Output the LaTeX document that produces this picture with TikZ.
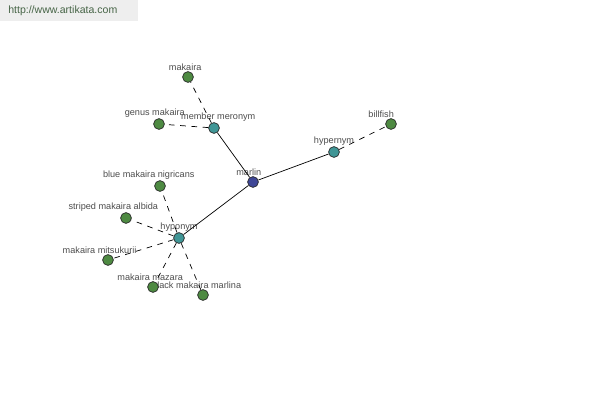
\documentclass[tikz,border=0pt]{standalone}
\usepackage{fontspec}
\setmainfont{Liberation Sans}
\definecolor{leafgreen}{RGB}{78,138,66}
\definecolor{reltea}{RGB}{64,150,150}
\definecolor{rootblue}{RGB}{62,70,150}
\definecolor{urlgray}{RGB}{238,238,238}
\definecolor{urltext}{RGB}{70,100,70}
\begin{document}
\begin{tikzpicture}[x=0.025cm, y=-0.025cm,
  word/.style={circle, draw=black!85, line width=0.5pt, inner sep=0pt, minimum size=0.27cm},
  leaf/.style={word, fill=leafgreen},
  rel/.style={word, fill=reltea},
  root/.style={word, fill=rootblue},
  lbl/.style={font=\fontsize{6.5}{7}\selectfont, text=black!70, inner sep=0.6pt},
  solidedge/.style={draw=black, line width=0.5pt},
  dashedge/.style={draw=black, line width=0.5pt, dash pattern=on 4pt off 4pt}]
\useasboundingbox (0,0) rectangle (600,400);
% url banner
\fill[urlgray] (0,0) rectangle (138,21);
\node[anchor=west, font=\fontsize{7.5}{9}\selectfont, text=urltext, inner sep=0pt] (url) at (8,11) {http://www.artikata.com};
% nodes
\node[root, label={[lbl, xshift=-3pt]above:marlin}] (marlin) at (253,182) {};
\node[rel, label={[lbl, xshift=3pt]above:member meronym}] (meronym) at (214,128) {};
\node[rel, label={[lbl]above:hypernym}] (hypernym) at (334,152) {};
\node[rel, label={[lbl]above:hyponym}] (hyponym) at (179,238) {};
\node[leaf, label={[lbl, xshift=-2pt]above:makaira}] (makaira) at (188,77) {};
\node[leaf, label={[lbl, xshift=-3pt]above:genus makaira}] (genus) at (159,124) {};
\node[leaf, label={[lbl, xshift=-7pt]above:billfish}] (billfish) at (391,124) {};
\node[leaf, label={[lbl, xshift=-8pt]above:blue makaira nigricans}] (blue) at (160,186) {};
\node[leaf, label={[lbl, xshift=-9pt]above:striped makaira albida}] (striped) at (126,218) {};
\node[leaf, label={[lbl, xshift=-6pt]above:makaira mitsukurii}] (mitsukurii) at (108,260) {};
\node[leaf, label={[lbl, xshift=-4.5pt]above:black makaira marlina}] (black) at (203,295) {};
\node[leaf, label={[lbl, xshift=-2pt]above:makaira mazara}] (mazara) at (153,287) {};
% links
\draw[solidedge] (marlin) -- (meronym);
\draw[solidedge] (marlin) -- (hypernym);
\draw[solidedge] (marlin) -- (hyponym);
\draw[dashedge] (meronym) -- (makaira);
\draw[dashedge] (meronym) -- (genus);
\draw[dashedge] (hypernym) -- (billfish);
\foreach \leafname in {blue, striped, mitsukurii, mazara, black}
  \draw[dashedge] (hyponym) -- (\leafname);
\end{tikzpicture}
\end{document}
